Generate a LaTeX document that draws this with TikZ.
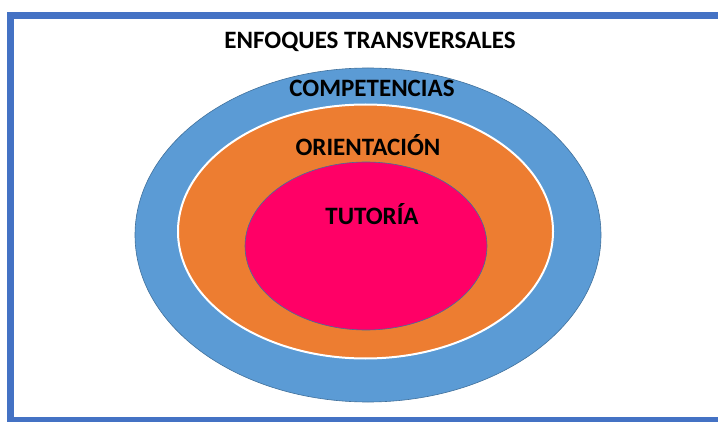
\documentclass[tikz,border=0pt]{standalone}
\usepackage{fontspec}
\setmainfont{Carlito}
\definecolor{frameblue}{HTML}{4472C4}
\definecolor{ringblue}{HTML}{5B9BD5}
\definecolor{ringorange}{HTML}{ED7D31}
\definecolor{corepink}{HTML}{FF0066}
\definecolor{edgeblue}{HTML}{41719C}
\begin{document}
\begin{tikzpicture}[x=1pt,y=1pt,
  lbl/.style={font=\fontsize{25}{28}\selectfont\bfseries, text=black, inner sep=0pt}]
\useasboundingbox (0,0) rectangle (718,421);
\clip (0,0) rectangle (718,421);
\fill[white] (0,0) rectangle (718,421);
\draw[frameblue, line width=7pt] (10.5,0.5) rectangle (730,405.5);
\draw[edgeblue, line width=0.6pt, fill=ringblue] (368,186) ellipse [x radius=233, y radius=167];
\draw[white, line width=2pt, fill=ringorange] (365.5,189.5) ellipse [x radius=187.5, y radius=127];
\draw[edgeblue, line width=0.6pt, fill=corepink] (366,175) ellipse [x radius=121, y radius=84];
\node[lbl] (enf) at (370,379) {ENFOQUES TRANSVERSALES};
\node[lbl] (comp) at (372,333) {COMPETENCIAS};
\node[lbl] (ori) at (368,276) {ORIENTACIÓN};
\node[lbl] (tut) at (372,207) {TUTORÍA};
\end{tikzpicture}
\end{document}
